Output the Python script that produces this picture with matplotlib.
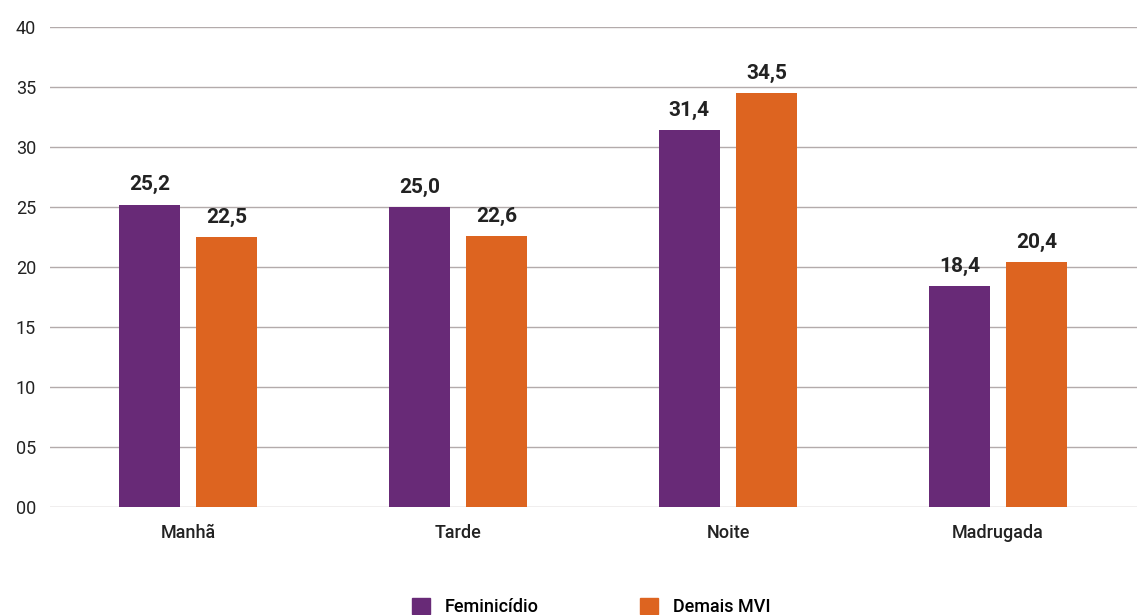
import numpy as np
import matplotlib
matplotlib.use('Agg')
import matplotlib.pyplot as plt
from matplotlib.patches import Patch

plt.rcParams['font.family'] = ['Roboto', 'DejaVu Sans']

categories = ['Manhã', 'Tarde', 'Noite', 'Madrugada']
feminicidio = [25.2, 25.0, 31.4, 18.4]
demais_mvi = [22.5, 22.6, 34.5, 20.4]
series_names = ['Feminicídio', 'Demais MVI']
yticks = [0, 5, 10, 15, 20, 25, 30, 35, 40]

purple = '#682a77'
orange = '#dd6420'

fig = plt.figure(figsize=(11.37, 6.15), dpi=100)
ax = fig.add_axes([50 / 1137, 108 / 615, 1087 / 1137, 480 / 615])

x = np.arange(len(categories))
w = 0.226
off = 0.143
b1 = ax.bar(x - off, feminicidio, w, color=purple, zorder=3)
b2 = ax.bar(x + off, demais_mvi, w, color=orange, zorder=3)

for bars, vals in [(b1, feminicidio), (b2, demais_mvi)]:
    for r, v in zip(bars, vals):
        ax.text(r.get_x() + r.get_width() / 2, v + 0.85, ('%.1f' % v).replace('.', ','),
                ha='center', va='bottom', fontsize=15, fontweight='bold', color='#222222')

ax.set_ylim(0, 40)
ax.set_xlim(-0.511, 3.515)
ax.set_yticks(yticks)
ax.set_yticklabels(['%02d' % t for t in yticks])
ax.set_xticks(x)
ax.set_xticklabels(categories, fontweight='medium')
ax.yaxis.grid(True, color='#b3abab', lw=1, zorder=0)
for s in ax.spines.values():
    s.set_visible(False)
ax.tick_params(axis='both', length=0, labelsize=13, colors='#222222')
ax.tick_params(axis='y', pad=10)
ax.tick_params(axis='x', pad=12)

handles = [Patch(color=purple), Patch(color=orange)]
leg = fig.legend(handles, series_names, loc='center', bbox_to_anchor=(0.52, 0.013),
                 ncol=2, frameon=False, fontsize=13, handlelength=1.0, handleheight=1.0,
                 columnspacing=5.6, handletextpad=0.8)
for t in leg.get_texts():
    t.set_fontweight('medium')

fig.savefig('out.png', dpi=100)
